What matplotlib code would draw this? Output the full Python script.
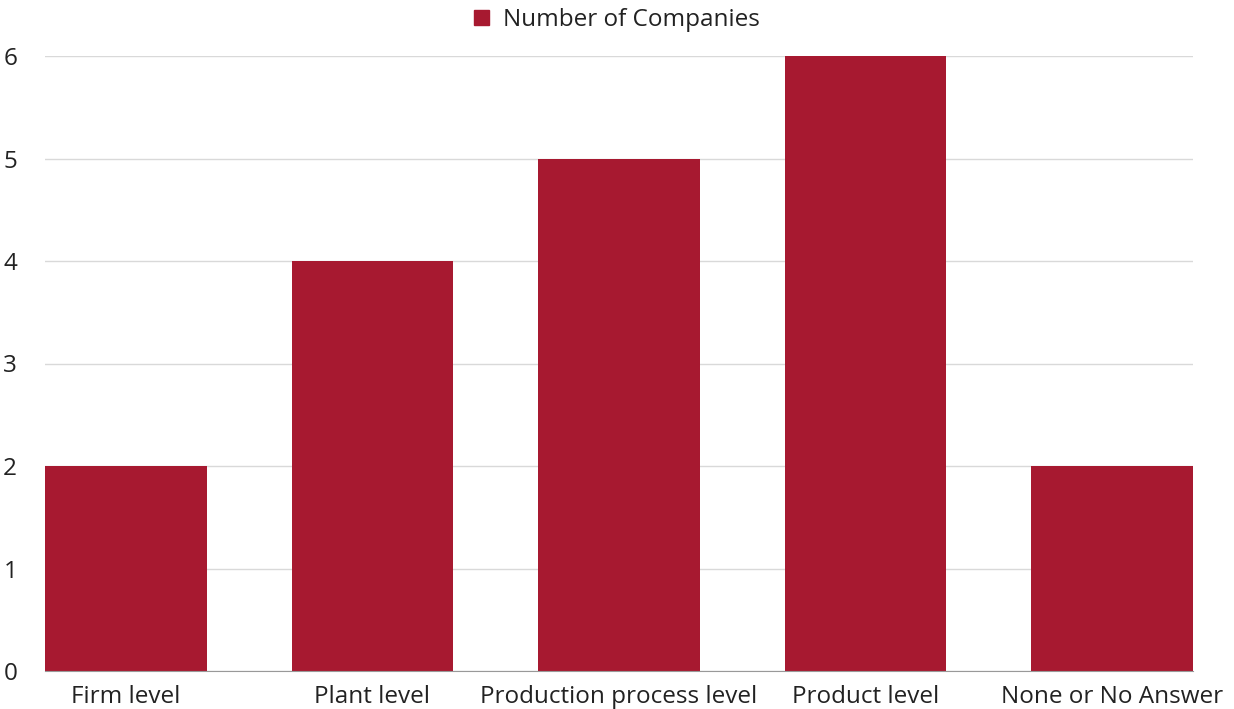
import matplotlib.pyplot as plt
from matplotlib.patches import Patch

categories = ['Firm level', 'Plant level', 'Production process level',
              'Product level', 'None or No Answer']
companies = [2, 4, 5, 6, 2]

bar_color = '#a71930'

plt.rcParams['font.family'] = ['Open Sans', 'DejaVu Sans']

fig = plt.figure(figsize=(12.34, 7.09), dpi=100)
ax = fig.add_axes([45/1234, 1 - 671/709, (1193 - 45)/1234, (671 - 56)/709])

width = 0.657
x = list(range(len(categories)))
ax.bar(x, companies, width=width, color=bar_color, zorder=3)

ax.set_xlim(-width/2, len(categories) - 1 + width/2)
ax.set_ylim(0, 6)
ax.set_yticks(range(0, 7))
ax.set_xticks(x)
ax.set_xticklabels(categories)

ax.grid(axis='y', color='#d9d9d9', linewidth=1, zorder=0)
for s in ['top', 'right', 'left']:
    ax.spines[s].set_visible(False)
ax.spines['bottom'].set_color('#999999')
ax.spines['bottom'].set_zorder(4)
ax.tick_params(axis='both', length=0, labelsize=17.5, colors='#222222')
ax.tick_params(axis='y', pad=20)
ax.tick_params(axis='x', pad=10)

fig.legend(handles=[Patch(color=bar_color, label='Number of Companies')],
           loc='center', bbox_to_anchor=(0.5, 1 - 20/709), frameon=False,
           fontsize=17.5, handlelength=0.6, handleheight=0.6, handletextpad=0.6,
           labelcolor='#222222')

fig.savefig('out.png', dpi=100)
